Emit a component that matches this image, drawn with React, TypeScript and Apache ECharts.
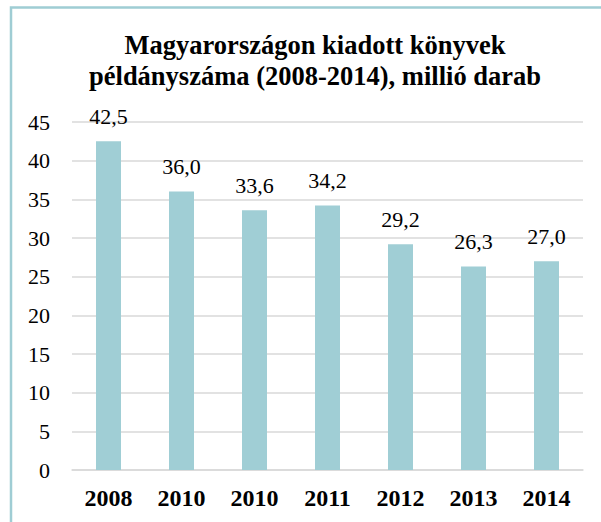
import React, { useEffect, useRef } from "react";
import * as echarts from "echarts";

const categories = ["2008", "2010", "2010", "2011", "2012", "2013", "2014"];
const values = [42.5, 36.0, 33.6, 34.2, 29.2, 26.3, 27.0];
const titleLines = ["Magyarországon kiadott könyvek", "példányszáma (2008-2014), millió darab"];

export default function App() {
  const ref = useRef<HTMLDivElement>(null);
  useEffect(() => {
    const chart = echarts.init(ref.current!, null, { renderer: "svg" });
    const font = "Liberation Serif";
    chart.setOption({
      animation: false,
      backgroundColor: "#ffffff",
      title: {
        text: titleLines.join("\n"),
        left: 310,
        textAlign: "center",
        top: 24,
        textStyle: { fontFamily: font, fontWeight: "bold", fontSize: 26.5, color: "#000", lineHeight: 31 },
      },
      graphic: [
        {
          type: "rect",
          shape: { x: 11, y: 7.5, width: 700, height: 700 },
          style: { fill: "none", stroke: "#9fcdd4", lineWidth: 2.5 },
          silent: true,
        },
      ],
      grid: { left: 72, right: 18, top: 122, bottom: 52 },
      xAxis: {
        type: "category",
        data: categories,
        axisLine: { show: true, lineStyle: { color: "#d9d9d9", width: 1.5 } },
        axisTick: { show: false },
        axisLabel: { fontFamily: font, fontWeight: "bold", fontSize: 24, color: "#000", margin: 16 },
      },
      yAxis: {
        type: "value",
        min: 0,
        max: 45,
        interval: 5,
        axisLine: { show: false },
        axisTick: { show: false },
        splitLine: { lineStyle: { color: "#d9d9d9", width: 1.5 } },
        axisLabel: { fontFamily: font, fontSize: 22, color: "#000", margin: 22 },
      },
      series: [
        {
          type: "bar",
          data: values,
          barWidth: 25,
          itemStyle: { color: "#a0ced5" },
          label: {
            show: true,
            position: "top",
            distance: 14,
            fontFamily: font,
            fontSize: 22,
            color: "#000",
            formatter: (p: any) => p.value.toFixed(1).replace(".", ","),
          },
        },
      ],
    });
    return () => chart.dispose();
  }, []);
  return <div ref={ref} style={{ position: "fixed", left: 0, top: 0, width: 601, height: 522 }} />;
}
